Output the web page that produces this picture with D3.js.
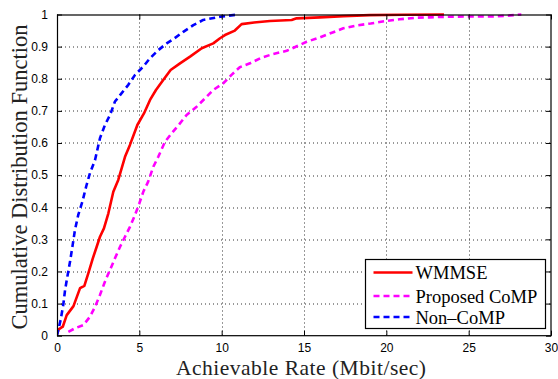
<!DOCTYPE html>
<html>
<head>
<meta charset="utf-8">
<script src="https://cdn.jsdelivr.net/npm/d3@7"></script>
<style>
  html, body { margin: 0; padding: 0; background: #fff; }
  svg { display: block; }
</style>
</head>
<body>
<svg id="chart" width="558" height="379"></svg>
<script>
// Empirical CDFs of achievable rate (Mbit/sec)
const wmmseX = [0, 0.1, 0.35, 0.59, 1.0, 1.4, 1.66, 1.9, 2.17, 2.41, 2.61, 2.85, 3.12, 3.42, 3.72, 4.13, 4.43, 4.88, 5.28, 5.65, 6.01, 6.45, 6.9, 7.47, 8.08, 8.79, 9.49, 9.9, 10.2, 10.8, 11.21, 12.12, 12.93, 14.25, 14.55, 15.97, 17.4, 19.0, 21.0, 23.5];
const wmmseY = [0.005, 0.02, 0.028, 0.064, 0.092, 0.148, 0.155, 0.194, 0.24, 0.277, 0.308, 0.334, 0.381, 0.448, 0.485, 0.557, 0.594, 0.656, 0.692, 0.734, 0.765, 0.796, 0.827, 0.848, 0.869, 0.895, 0.910, 0.926, 0.936, 0.950, 0.970, 0.976, 0.980, 0.983, 0.988, 0.991, 0.995, 0.998, 0.999, 1.0];

const compX = [0.69, 1.09, 1.6, 2.0, 2.31, 2.61, 2.91, 3.22, 3.52, 3.83, 4.13, 4.43, 4.74, 5.0, 5.24, 5.53, 5.85, 6.15, 6.56, 6.96, 7.42, 7.87, 8.48, 9.09, 9.49, 10.1, 10.6, 11.1, 11.72, 12.43, 13.13, 13.95, 14.65, 15.16, 15.97, 16.78, 17.39, 18.2, 19.05, 20.0, 20.8, 21.8, 22.6, 23.66, 25.3, 26.5, 27.3, 28.2];
const compY = [0.012, 0.023, 0.033, 0.059, 0.09, 0.127, 0.168, 0.205, 0.241, 0.277, 0.308, 0.339, 0.376, 0.412, 0.448, 0.479, 0.526, 0.557, 0.604, 0.63, 0.658, 0.687, 0.713, 0.744, 0.765, 0.786, 0.812, 0.836, 0.848, 0.866, 0.877, 0.887, 0.903, 0.915, 0.929, 0.945, 0.957, 0.966, 0.972, 0.980, 0.985, 0.990, 0.991, 0.993, 0.994, 0.994, 0.996, 1.0];

const noncompX = [0, 0.02, 0.22, 0.38, 0.49, 0.63, 0.79, 0.95, 1.09, 1.29, 1.54, 1.78, 2.0, 2.31, 2.61, 2.91, 3.22, 3.52, 3.83, 4.33, 4.74, 5.24, 5.65, 6.15, 6.66, 7.11, 7.67, 8.28, 8.88, 9.9, 10.7, 11.0];
const noncompY = [0, 0.005, 0.049, 0.096, 0.142, 0.184, 0.23, 0.282, 0.329, 0.376, 0.417, 0.466, 0.506, 0.547, 0.615, 0.656, 0.687, 0.729, 0.749, 0.781, 0.812, 0.838, 0.864, 0.889, 0.910, 0.925, 0.946, 0.967, 0.983, 0.993, 0.998, 1.0];

const seriesNames = ["WMMSE", "Proposed CoMP", "Non\u2013CoMP"];
const xTicks = [0, 5, 10, 15, 20, 25, 30];
const yTicks = [0, 0.1, 0.2, 0.3, 0.4, 0.5, 0.6, 0.7, 0.8, 0.9, 1];
const xTitle = "Achievable Rate (Mbit/sec)";
const yTitle = "Cumulative Distribution Function";

const series = [
  { name: seriesNames[0], xs: wmmseX, ys: wmmseY, color: "#ff0000", dash: null },
  { name: seriesNames[1], xs: compX, ys: compY, color: "#ff00ff", dash: "6,4" },
  { name: seriesNames[2], xs: noncompX, ys: noncompY, color: "#0000ff", dash: "6,4" }
];

const W = 558, H = 379;
const margin = { left: 57, top: 14.5, right: 7, bottom: 43.3 };
const iw = W - margin.left - margin.right;
const ih = H - margin.top - margin.bottom;

const svg = d3.select("#chart");
const g = svg.append("g").attr("transform", `translate(${margin.left},${margin.top})`);

const x = d3.scaleLinear().domain([0, 30]).range([0, iw]);
const y = d3.scaleLinear().domain([0, 1]).range([ih, 0]);

// dotted grid
const grid = g.append("g").attr("stroke", "#333").attr("stroke-width", 1).attr("stroke-dasharray", "1,3");
grid.selectAll("line.v").data(xTicks.slice(1, -1)).join("line")
  .attr("x1", d => Math.round(x(d)) + 0.5).attr("x2", d => Math.round(x(d)) + 0.5)
  .attr("y1", 0).attr("y2", ih);
grid.selectAll("line.h").data(yTicks.slice(1, -1)).join("line")
  .attr("y1", d => Math.round(y(d)) + 0.5).attr("y2", d => Math.round(y(d)) + 0.5)
  .attr("x1", 0).attr("x2", iw);

// curves
svg.append("defs").append("clipPath").attr("id", "plotclip")
  .append("rect").attr("x", 0).attr("y", -2).attr("width", iw).attr("height", ih + 2);

const line = d3.line().x(d => x(d[0])).y(d => y(d[1]));
g.append("g").attr("clip-path", "url(#plotclip)")
  .selectAll("path").data(series).join("path")
  .attr("d", s => line(s.xs.map((v, i) => [v, s.ys[i]])))
  .attr("fill", "none")
  .attr("stroke", s => s.color)
  .attr("stroke-width", 2.6)
  .attr("stroke-dasharray", s => s.dash)
  .attr("stroke-linejoin", "round");

// axes (ticks inward on all four sides)
const tickFont = "'Liberation Sans', Arial, sans-serif";
const xAxis = d3.axisBottom(x).tickValues(xTicks).tickSize(-5).tickPadding(8).tickFormat(d3.format("d"));
const yAxis = d3.axisLeft(y).tickValues(yTicks).tickSize(-5).tickPadding(9).tickFormat(d => d === 0 || d === 1 ? d3.format("d")(d) : d3.format(".1f")(d));
const gx = g.append("g").attr("transform", `translate(0,${ih})`).call(xAxis);
const gy = g.append("g").call(yAxis);
g.append("g").call(d3.axisTop(x).tickValues(xTicks).tickSize(-5).tickFormat(""));
g.append("g").attr("transform", `translate(${iw},0)`).call(d3.axisRight(y).tickValues(yTicks).tickSize(-5).tickFormat(""));
g.selectAll(".domain").remove();
g.selectAll(".tick line").attr("stroke", "#000");
[gx, gy].forEach(a => a.selectAll("text").attr("font-family", tickFont).attr("font-size", 12).attr("fill", "#000"));

// frame
g.append("rect").attr("x", 0.5).attr("y", 0.5).attr("width", iw - 0.5).attr("height", ih - 0.5)
  .attr("fill", "none").attr("stroke", "#000").attr("stroke-width", 1.2);

// titles
const serif = "'Liberation Serif', 'Times New Roman', serif";
svg.append("text").attr("x", margin.left + iw / 2 - 3).attr("y", 374.5)
  .attr("text-anchor", "middle").attr("font-family", serif).attr("font-size", 21.5).attr("fill", "#222")
  .attr("textLength", 250).attr("lengthAdjust", "spacing")
  .text(xTitle);
svg.append("text").attr("transform", `translate(27,${margin.top + ih / 2 + 2}) rotate(-90)`)
  .attr("text-anchor", "middle").attr("font-family", serif).attr("font-size", 22.5).attr("fill", "#222")
  .text(yTitle);

// legend
const lg = svg.append("g").attr("transform", "translate(365.5,259.5)");
lg.append("rect").attr("width", 180).attr("height", 69).attr("fill", "#fff").attr("stroke", "#000").attr("stroke-width", 1.2);
const rows = lg.selectAll("g.row").data(series).join("g")
  .attr("transform", (d, i) => `translate(0,${[13, 36.5, 57.5][i]})`);
rows.append("line").attr("x1", 8).attr("x2", 47)
  .attr("stroke", d => d.color).attr("stroke-width", 2.6).attr("stroke-dasharray", d => d.dash);
rows.append("text").attr("x", 50).attr("y", 6.5).attr("font-family", serif).attr("font-size", 18.5).attr("fill", "#000")
  .text(d => d.name);
</script>
</body>
</html>
